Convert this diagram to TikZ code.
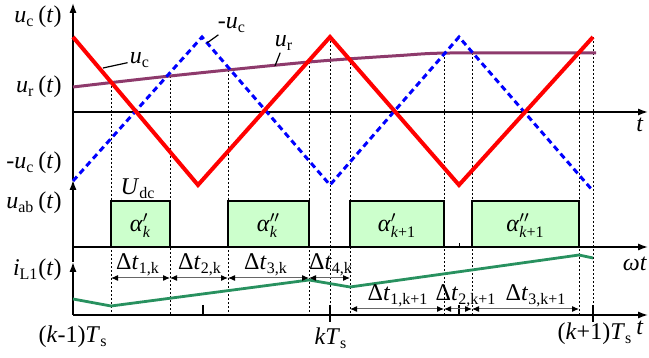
\documentclass[tikz,border=0pt]{standalone}
\usepackage{amsmath}
\usepackage{fontspec}
\setmainfont{Liberation Serif}
\usepackage{tikz}
\usetikzlibrary{arrows.meta}
\definecolor{refpurple}{RGB}{142,58,108}
\definecolor{ilgreen}{RGB}{40,145,95}
\definecolor{pulsefill}{RGB}{204,255,204}
\tikzset{every node/.append style={font=\fontsize{12}{14}\selectfont, inner sep=1pt}}

\begin{document}
\begin{tikzpicture}[x=0.5pt, y=-0.5pt, >={Latex[length=5pt,width=3.6pt]},
    axis/.style={line width=0.75pt, ->},
    guide/.style={line width=0.5pt, dash pattern=on 1pt off 1pt},
    carrier/.style={red, line width=2pt},
    ncarrier/.style={blue, line width=1.5pt, dash pattern=on 3pt off 2pt},
    refline/.style={refpurple, line width=1.5pt},
    pulse/.style={draw, line width=0.75pt, fill=pulsefill},
    dt/.style={{Latex[length=3.5pt,width=3pt,color=black]}-{Latex[length=3.5pt,width=3pt,color=black]}, line width=0.5pt, draw=black!60},
    lab/.style={anchor=east},
    leader/.style={line width=0.6pt}]
    \useasboundingbox (0,0) rectangle (649,358);
    % switching instants
    \foreach \x/\y in {111/82, 170/76, 228/70, 309/62, 330/37, 350/59, 444/53, 472/53, 579/53, 593/37}
        \draw[guide] (\x,\y) -- (\x,315);
    % axes
    \draw[axis] (73,315) -- (73,262);
    \draw[axis] (73,262) -- (73,180);
    \draw[axis] (73,180) -- (73,3);
    \draw[axis] (73,112) -- (648,112);
    \draw[axis] (73,247) -- (648,247);
    \draw[axis] (73,315) -- (648,315);
    \foreach \x in {139, 263, 393, 459, 527} \draw[line width=0.5pt] (\x,247) -- (\x,243);
    \foreach \x in {203, 459} \draw[line width=0.75pt] (\x,305) -- (\x,315);
    \foreach \x in {330, 593} \draw[line width=0.75pt] (\x,305) -- (\x,322);
    % u_ab pulses
    \draw[pulse] (111,201) rectangle (170,247);
    \draw[pulse] (228,201) rectangle (309,247);
    \draw[pulse] (350,201) rectangle (444,247);
    \draw[pulse] (472,201) rectangle (579,247);
    \node (a1) at (140.5,226) {\textit{α}$'_{\textit{k}}$};
    \node (a2) at (268.5,226) {\textit{α}$''_{\textit{k}}$};
    \node (a3) at (397,226) {\textit{α}$'_{\textit{k}\text{+1}}$};
    \node (a4) at (525.5,226) {\textit{α}$''_{\textit{k}\text{+1}}$};
    \node (udc) at (138,189) {\textit{U}$_\text{dc}$};
    % carriers and reference
    \draw[refline] plot[smooth] coordinates {(73,87) (170,76) (309,62) (400,55.5) (450,53) (596,53)};
    \draw[ncarrier] (73,181) -- (202,37) -- (330,185) -- (459,37) -- (593,191);
    \draw[carrier] (73,37) -- (198,185) -- (330,37) -- (459,185) -- (593,37);
    % inductor current
    \draw[ilgreen, line width=1.4pt] (73,299) -- (111,306) -- (309,280) -- (350,287) -- (579,255) -- (593,258);
    % intervals
    \foreach \n/\x in {1/111, 2/170, 3/228, 4/309, 5/350, 6/444, 7/472, 8/579} {
        \coordinate (p\n) at (\x,278);
        \coordinate (q\n) at (\x,309);
    }
    \draw[dt] (p1) -- (p2);
    \draw[dt] (p2) -- (p3);
    \draw[dt] (p3) -- (p4);
    \draw[dt] (p4) -- (p5);
    \draw[dt] (q5) -- (q6);
    \draw[dt] (q6) -- (q7);
    \draw[dt] (q7) -- (q8);
    \node (d1) at (138,265) {Δ\textit{t}$_\text{1,k}$};
    \node (d2) at (200,265) {Δ\textit{t}$_\text{2,k}$};
    \node (d3) at (266,265) {Δ\textit{t}$_\text{3,k}$};
    \node (d4) at (331,265) {Δ\textit{t}$_\text{4,k}$};
    \node (d5) at (398,296) {Δ\textit{t}$_\text{1,k+1}$};
    \node (d6) at (466,296) {Δ\textit{t}$_\text{2,k+1}$};
    \node (d7) at (536,296) {Δ\textit{t}$_\text{3,k+1}$};
    % axis labels
    \node[lab] (luc) at (64,17) {\textit{u}$_\text{c}$\,(\textit{t})};
    \node[lab] (lur) at (64,87) {\textit{u}$_\text{r}$\,(\textit{t})};
    \node[lab] (lnuc) at (64,163) {-\textit{u}$_\text{c}$\,(\textit{t})};
    \node[lab] (luab) at (64,203) {\textit{u}$_\text{ab}$\,(\textit{t})};
    \node[lab] (lil) at (64,270) {\textit{i}$_\text{L1}$(\textit{t})};
    \node (lt) at (640,125) {\textit{t}};
    \node (lwt) at (635,264) {\textit{ωt}};
    \node (lt2) at (640,328) {\textit{t}};
    \node (tk0) at (73,337) {(\textit{k}-1)\textit{T}$_\text{s}$};
    \node (tk1) at (331,338) {\textit{kT}$_\text{s}$};
    \node (tk2) at (595,334) {(\textit{k}+1)\textit{T}$_\text{s}$};
    % curve labels
    \node (nuc) at (140,60) {\textit{u}$_\text{c}$};
    \node (nnuc) at (232,25) {-\textit{u}$_\text{c}$};
    \node (nur) at (284,43) {\textit{u}$_\text{r}$};
    \coordinate (puc) at (103,68);
    \coordinate (pnuc) at (207,43);
    \coordinate (pur) at (275,66);
    \draw[leader] (puc) -- (nuc);
    \draw[leader] (pnuc) -- (nnuc);
    \draw[leader] (pur) -- (nur);
\end{tikzpicture}
\end{document}
